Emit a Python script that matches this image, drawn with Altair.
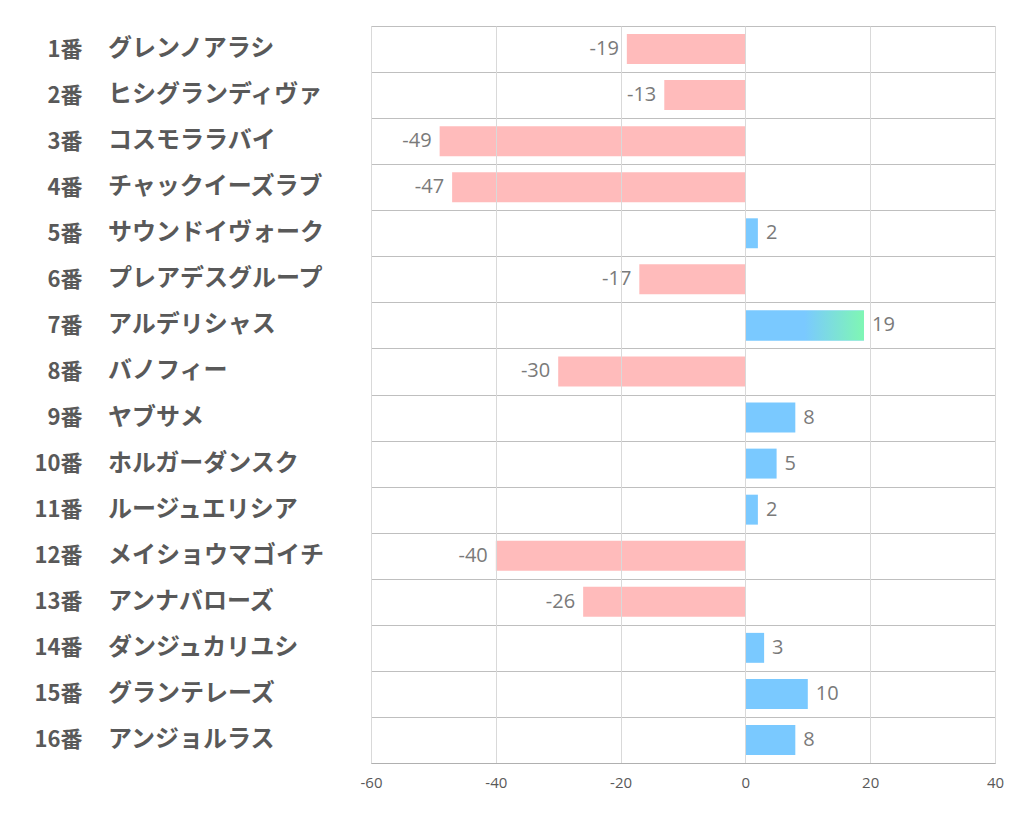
import altair as alt
import pandas as pd

nums = [f"{i}番" for i in range(1, 17)]
names = ["グレンノアラシ", "ヒシグランディヴァ", "コスモララバイ", "チャックイーズラブ",
         "サウンドイヴォーク", "プレアデスグループ", "アルデリシャス", "バノフィー",
         "ヤブサメ", "ホルガーダンスク", "ルージュエリシア", "メイショウマゴイチ",
         "アンナバローズ", "ダンジュカリユシ", "グランテレーズ", "アンジョルラス"]
values = [-19, -13, -49, -47, 2, -17, 19, -30, 8, 5, 2, -40, -26, 3, 10, 8]
x_ticks = [-60, -40, -20, 0, 20, 40]
highlight = "7番"

df = pd.DataFrame({"num": nums, "name": names, "value": values})
df["sign"] = ["neg" if v < 0 else "pos" for v in values]
df["label"] = [str(v) for v in values]

FONT_JP = "Noto Sans CJK JP"
LABEL_COLOR = "#595959"
BAR_BAND = {"band": 0.65}

y_enc = alt.Y("num:N", sort=nums,
              scale=alt.Scale(paddingInner=0, paddingOuter=0),
              axis=alt.Axis(title=None, domain=False, ticks=False, grid=True,
                            tickBand="extent", gridColor="#bfbfbf", gridWidth=1,
                            labelAlign="right", labelPadding=289, labelFontSize=22,
                            labelFont=FONT_JP, labelFontWeight="bold",
                            labelColor=LABEL_COLOR))
x_enc = alt.X("value:Q", scale=alt.Scale(domain=[-60, 40], nice=False),
              axis=alt.Axis(title=None, values=x_ticks, grid=True, gridColor="#d9d9d9",
                            domainColor="#b0b0b0", ticks=False, labelPadding=12,
                            labelFontSize=15, labelColor=LABEL_COLOR,
                            labelFont="Open Sans", labelFlush=False, zindex=1,
                            labelExpr="toString(datum.value)"))

y_plain = alt.Y("num:N", sort=nums)
base = alt.Chart(df)

bars = base.mark_bar(height=BAR_BAND).encode(
    y=y_enc, x=x_enc,
    x2=alt.datum(0),
    color=alt.Color("sign:N", scale=alt.Scale(domain=["neg", "pos"],
                                              range=["#ffbbbb", "#7ac9ff"]), legend=None),
)

grad = base.transform_filter(alt.datum.num == highlight).mark_bar(
    height=BAR_BAND,
    color=alt.Gradient(gradient="linear", x1=0, x2=1, y1=0, y2=0,
                       stops=[alt.GradientStop(color="#7ac9ff", offset=0),
                              alt.GradientStop(color="#7ac9ff", offset=0.5),
                              alt.GradientStop(color="#7ff7b3", offset=1)])
).encode(y=y_plain, x="value:Q", x2=alt.datum(0))

neg_lbl = base.transform_filter(alt.datum.value < 0).mark_text(
    align="right", baseline="middle", dx=-8, fontSize=20, color="#7a7a7a", font="Open Sans"
).encode(y=y_plain, x="value:Q", text="label:N")

pos_lbl = base.transform_filter(alt.datum.value >= 0).mark_text(
    align="left", baseline="middle", dx=8, fontSize=20, color="#7a7a7a", font="Open Sans"
).encode(y=y_plain, x="value:Q", text="label:N")

name_lbl = base.mark_text(
    align="left", baseline="middle", fontSize=24, font=FONT_JP, fontWeight="bold",
    color=LABEL_COLOR
).encode(y=y_plain, x=alt.value(-263), text="name:N")

chart = alt.layer(bars, grad, neg_lbl, pos_lbl, name_lbl).properties(
    width=624, height=737,
    padding={"left": 26, "top": 7, "right": 10, "bottom": 10},
).configure_view(stroke=None).configure(background="white")

chart.save("out.html", embed_options={"renderer": "svg", "actions": False})
